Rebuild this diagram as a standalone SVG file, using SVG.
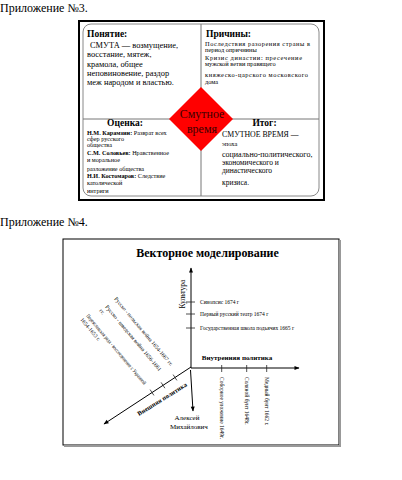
<svg xmlns="http://www.w3.org/2000/svg" width="402" height="480" viewBox="0 0 402 480">
<defs>
<style>
text{font-family:"Liberation Serif","Times New Roman",serif;fill:#000}
.b{font-weight:bold}
.ax{stroke:#000;stroke-width:1;fill:none}
.tk{stroke:#222;stroke-width:0.8}
.dv{stroke:#777;stroke-width:1}
.s55{font-size:5.5px}
.pr{font-size:6.4px}
</style>
<marker id="ah" viewBox="0 0 10 10" refX="9" refY="5" markerWidth="6" markerHeight="5" orient="auto" markerUnits="userSpaceOnUse"><path d="M0,1 L10,5 L0,9 z" fill="#000"/></marker>
</defs>
<rect width="402" height="480" fill="#fff"/>

<!-- Appendix 3 -->
<text x="0" y="12" font-size="12">Приложение №3.</text>
<g id="table3">
<rect x="79" y="21" width="245" height="179" fill="#fff" stroke="#000" stroke-width="2"/>
<rect x="83" y="24" width="236" height="172" rx="8" fill="none" stroke="#888"/>
<line x1="201" y1="24" x2="201" y2="196" class="dv"/>
<line x1="83" y1="119" x2="319" y2="119" class="dv"/>
</g>
<g id="ponyatie">
<text x="87" y="37" font-size="9.5" class="b">Понятие:</text>
<text x="90" y="48.3" font-size="8.4">СМУТА — возмущение,</text>
<text x="87" y="57.3" font-size="8.4">восстание, мятеж,</text>
<text x="87" y="66.5" font-size="8.4">крамола, общее</text>
<text x="87" y="75.7" font-size="8.4">неповиновение, раздор</text>
<text x="87" y="85" font-size="8.4">меж народом и властью.</text>
</g>
<g id="prichiny">
<text x="206" y="37" font-size="9.5" class="b">Причины:</text>
<text x="205" y="46" class="pr" textLength="105" lengthAdjust="spacing">Последствия разорения страны в</text>
<text x="205" y="52" class="pr">период опричнины</text>
<text x="205" y="60" class="pr" textLength="97" lengthAdjust="spacing">Кризис  династии:  пресечение</text>
<text x="205" y="66.3" class="pr">мужской ветви правящего</text>
<text x="205" y="77" class="pr" textLength="103" lengthAdjust="spacing">княжеско-царского  московского</text>
<text x="205" y="84" class="pr">дома</text>
</g>
<g id="ocenka">
<text x="125" y="126" font-size="9.5" class="b" text-anchor="middle">Оценка:</text>
<text x="87" y="134.5" font-size="6.2"><tspan class="b">Н.М. Карамзин:</tspan> Разврат всех</text>
<text x="87" y="140.5" font-size="6.2">сфер русского</text>
<text x="87" y="147" font-size="6.2">общества</text>
<text x="87" y="155" font-size="6.2"><tspan class="b">С.М. Соловьев:</tspan> Нравственное</text>
<text x="87" y="161.7" font-size="6.2">и моральное</text>
<text x="87" y="171" font-size="6.2">разложение общества</text>
<text x="87" y="177.7" font-size="6.2"><tspan class="b">Н.И. Костомаров:</tspan> Следствие</text>
<text x="87" y="185" font-size="6.2">католической</text>
<text x="87" y="193" font-size="6.2">интриги</text>
</g>
<g id="itog">
<text x="264.5" y="125.7" font-size="9.5" class="b" text-anchor="middle">Итог:</text>
<text x="222" y="136.7" font-size="7.8">СМУТНОЕ ВРЕМЯ —</text>
<text x="222" y="145.7" font-size="6.5">эпоха</text>
<text x="222" y="156.7" font-size="8">социально-политического,</text>
<text x="222" y="165" font-size="7.5">экономического и</text>
<text x="222" y="173.3" font-size="7.5">династического</text>
<text x="222" y="185" font-size="7.5">кризиса.</text>
</g>
<g id="smuta">
<polygon points="201,87 233,119 201,151 169,119" fill="#f00"/>
<text x="202" y="118.3" font-size="12" text-anchor="middle" style="fill:#3b0000">Смутное</text>
<text x="202" y="133.3" font-size="12" text-anchor="middle" style="fill:#3b0000">время</text>
</g>

<!-- Appendix 4 -->
<text x="0" y="226" font-size="12">Приложение №4.</text>
<g id="frame4">
<rect x="63" y="239" width="276" height="206" fill="#fff" stroke="#000" stroke-width="1"/>
<polyline points="340,240 340,446 64,446" stroke="#999" stroke-width="2" fill="none"/>
<text x="207.5" y="257" font-size="12" class="b" text-anchor="middle">Векторное моделирование</text>
</g>

<g id="connectors">
<line class="ax" x1="191" y1="368" x2="191" y2="268" marker-end="url(#ah)"/>
<line class="ax" x1="191" y1="368" x2="299" y2="368" marker-end="url(#ah)"/>
<line class="ax" x1="191" y1="367" x2="104" y2="424" marker-end="url(#ah)"/>
<line class="ax" x1="190.5" y1="370" x2="193" y2="411" marker-end="url(#ah)"/>
<line class="tk" x1="186" y1="302" x2="195" y2="302"/>
<line class="tk" x1="186" y1="314" x2="195" y2="314"/>
<line class="tk" x1="186" y1="328" x2="195" y2="328"/>
<line class="tk" x1="221.7" y1="365" x2="221.7" y2="372"/>
<line class="tk" x1="246.7" y1="365" x2="246.7" y2="372"/>
<line class="tk" x1="266.7" y1="365" x2="266.7" y2="372"/>
<line class="tk" x1="173.1" y1="374.6" x2="176.9" y2="380.4"/>
<line class="tk" x1="161.1" y1="382.4" x2="164.9" y2="388.2"/>
<line class="tk" x1="150.1" y1="389.6" x2="153.9" y2="395.4"/>
</g>

<g id="kultura">
<text transform="translate(184.5,294) rotate(-90)" font-size="7.5" text-anchor="middle">Культура</text>
<text x="200" y="304" class="s55">Синопсис 1674 г</text>
<text x="200" y="316" class="s55">Первый русский театр 1674 г</text>
<text x="200" y="330" class="s55">Государственная  школа подьячих 1665 г</text>
</g>
<g id="vnutrennyaya">
<text x="237" y="360" font-size="7" class="b" text-anchor="middle">Внутренняя политика</text>
<text transform="translate(219.8,377) rotate(90)" class="s55">Соборное уложение 1649г.</text>
<text transform="translate(244.8,377) rotate(90)" class="s55">Соляной бунт 1648г.</text>
<text transform="translate(264.8,377) rotate(90)" class="s55">Медный бунт 1662 г.</text>
</g>
<g id="vneshnyaya">
<text transform="translate(162,399) rotate(-32)" y="2.3" font-size="6.5" class="b" text-anchor="middle">Внешняя политика</text>
<text transform="translate(114,299) rotate(50)" class="s55" textLength="88" lengthAdjust="spacingAndGlyphs">Русско - польская война 1654-1667 гг.</text>
<text transform="translate(105,307) rotate(50)" class="s55" textLength="84" lengthAdjust="spacingAndGlyphs">Русско - шведская война 1656-1661</text>
<text transform="translate(105,307) rotate(50)" x="-1" y="7" class="s55">гг.</text>
<text transform="translate(86,316) rotate(50)" class="s55" textLength="90" lengthAdjust="spacingAndGlyphs">Переяславская рада - воссоединение с Украиной</text>
<text transform="translate(86,316) rotate(50)" x="-1" y="7" class="s55">1654-1653 г.</text>
</g>
<g id="aleksey">
<text x="187" y="419.5" font-size="7" text-anchor="middle">Алексей</text>
<text x="189" y="428.5" font-size="7" text-anchor="middle">Михайлович</text>
</g>
</svg>
